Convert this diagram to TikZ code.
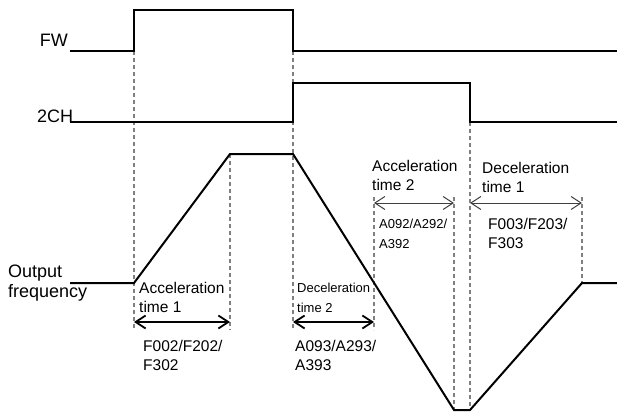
\documentclass[tikz,border=0pt]{standalone}
\usepackage{fontspec}
\setmainfont{Liberation Sans}
\usetikzlibrary{arrows.meta}

\begin{document}
\begin{tikzpicture}[x=1pt,y=-1pt,
  sig/.style={line width=2pt},
  guide/.style={gray,line width=1.1pt,dash pattern=on 4pt off 3pt},
  span/.style={line width=1.8pt,{Straight Barb[length=10pt,width=13pt]}-{Straight Barb[length=10pt,width=13pt]}},
  thinspan/.style={black!75,line width=1pt,{Straight Barb[length=10pt,width=13pt]}-{Straight Barb[length=10pt,width=13pt]}},
  biglbl/.style={font=\fontsize{18}{20}\selectfont,inner sep=0,align=left},
  midlbl/.style={font=\fontsize{15.5}{19}\selectfont,inner sep=0,align=left},
  smalllbl/.style={font=\fontsize{13}{20}\selectfont,inner sep=0,align=left}]
\useasboundingbox (0,0) rectangle (617,412);

% guide lines
\foreach \n/\x/\ya/\yb in {a/134/51/330,b/230/154/330,c/293/51/330,d/374/197/330,e/454/197/410,f/470/122/410,g/582/197/283} {
  \coordinate (\n top) at (\x,\ya);
  \coordinate (\n bot) at (\x,\yb);
  \draw[guide] (\n top) -- (\n bot);
}

% signals
\node[biglbl,anchor=base east] (fwlbl) at (68,47) {FW};
\node[biglbl,anchor=base west] (chlbl) at (37,122) {2CH};
\node[biglbl,anchor=base west] (outlbl) at (8,297) {Output\\frequency};

\coordinate (fw0) at (70,51);
\coordinate (fw1) at (134,51);
\coordinate (fw2) at (134,10);
\coordinate (fw3) at (293,10);
\coordinate (fw4) at (293,51);
\coordinate (fw5) at (617,51);
\draw[sig] (fw0) -- (fw1) -- (fw2) -- (fw3) -- (fw4) -- (fw5);

\coordinate (ch0) at (70,122);
\coordinate (ch1) at (293,122);
\coordinate (ch2) at (293,83);
\coordinate (ch3) at (470,83);
\coordinate (ch4) at (470,122);
\coordinate (ch5) at (617,122);
\draw[sig] (ch0) -- (ch1) -- (ch2) -- (ch3) -- (ch4) -- (ch5);

\coordinate (of0) at (70,283);
\coordinate (of1) at (134,283);
\coordinate (of2) at (230,154);
\coordinate (of3) at (293,154);
\coordinate (of4) at (454,410);
\coordinate (of5) at (470,410);
\coordinate (of6) at (582,283);
\coordinate (of7) at (617,283);
\draw[sig] (of0) -- (of1) -- (of2) -- (of3) -- (of4) -- (of5) -- (of6) -- (of7);

% time spans
\coordinate (acc1l) at (134,322);
\coordinate (acc1r) at (230,322);
\draw[span] (acc1l) -- (acc1r);
\coordinate (dec2l) at (293,322);
\coordinate (dec2r) at (374,322);
\draw[span] (dec2l) -- (dec2r);
\coordinate (acc2l) at (374,203);
\coordinate (acc2r) at (454,203);
\draw[thinspan] (acc2l) -- (acc2r);
\coordinate (dec1l) at (470,203);
\coordinate (dec1r) at (582,203);
\draw[thinspan] (dec1l) -- (dec1r);

\node[midlbl,anchor=base west] (acc1) at (139,312) {Acceleration\\time 1};
\node[midlbl,anchor=base west] (acc1par) at (143,370) {F002/F202/\\F302};
\node[smalllbl,anchor=base west] (dec2) at (297,312) {Deceleration\\time 2};
\node[midlbl,anchor=base west] (dec2par) at (295,370) {A093/A293/\\A393};
\node[midlbl,anchor=base west] (acc2) at (372,190) {Acceleration\\time 2};
\node[smalllbl,anchor=base west] (acc2par) at (379,248) {A092/A292/\\A392};
\node[midlbl,anchor=base west] (dec1) at (482,192) {Deceleration\\time 1};
\node[midlbl,anchor=base west] (dec1par) at (488,248) {F003/F203/\\F303};
\end{tikzpicture}
\end{document}
